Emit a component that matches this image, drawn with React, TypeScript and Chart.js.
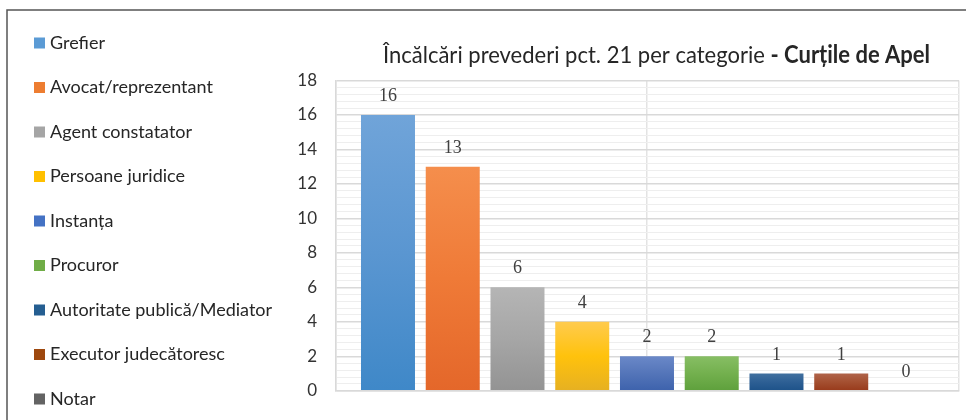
import React, { useEffect, useRef } from "react";
import { Chart, registerables } from "chart.js";

Chart.register(...registerables);

const categories = [
  "Grefier",
  "Avocat/reprezentant",
  "Agent constatator",
  "Persoane juridice",
  "Instanța",
  "Procuror",
  "Autoritate publică/Mediator",
  "Executor judecătoresc",
  "Notar",
];
const values = [16, 13, 6, 4, 2, 2, 1, 1, 0];
const yTickLabels = ["0", "2", "4", "6", "8", "10", "12", "14", "16", "18"];
const legendColors = ["#5B9BD5", "#ED7D31", "#A5A5A5", "#FFC000", "#4472C4", "#70AD47", "#255E91", "#9E480E", "#636363"];
const topColors = ["#70A4D9", "#F58E4C", "#B5B5B5", "#FFCB4E", "#6A88C8", "#87BE64", "#41709F", "#B0644A", "#7A7A7A"];
const midColors = ["#5A96D1", "#EF7A37", "#A6A6A6", "#FFC20C", "#5475B9", "#73B04E", "#2D5F94", "#A44F30", "#6A6A6A"];
const bottomColors = ["#3F88C8", "#E4672A", "#939393", "#E6B022", "#3D62AC", "#5EA03C", "#1D5289", "#983A1B", "#555555"];

const titleNormal = "Încălcări prevederi pct. 21 per categorie ";
const titleBold = "- Curțile de Apel";

const SANS = 'Lato, "Noto Sans", sans-serif';

const isMajor = (v: number) => Math.abs(v / 2 - Math.round(v / 2)) < 1e-6;

const decorPlugin = {
  id: "decor",
  beforeDraw(chart: any) {
    const ctx = chart.ctx;
    ctx.save();
    ctx.fillStyle = "#ffffff";
    ctx.fillRect(0, 0, chart.width, chart.height);
    ctx.strokeStyle = "#555555";
    ctx.lineWidth = 1.5;
    ctx.beginPath();
    ctx.moveTo(7, chart.height);
    ctx.lineTo(7, 10);
    ctx.lineTo(chart.width, 10);
    ctx.stroke();
    ctx.restore();
  },
  afterDatasetsDraw(chart: any) {
    const ctx = chart.ctx;
    const meta = chart.getDatasetMeta(0);
    ctx.save();
    ctx.font = '18px "Liberation Serif", "DejaVu Serif", serif';
    ctx.fillStyle = "#404040";
    ctx.textAlign = "center";
    ctx.textBaseline = "alphabetic";
    meta.data.forEach((el: any, i: number) => {
      ctx.fillText(String(values[i]), el.x, el.y - 14);
    });
    ctx.restore();
  },
  afterDraw(chart: any) {
    const ctx = chart.ctx;
    ctx.save();
    ctx.fillStyle = "#262626";
    ctx.textBaseline = "alphabetic";
    ctx.textAlign = "left";
    const fNormal = `24px ${SANS}`;
    const fBold = `bold 24px ${SANS}`;
    ctx.font = fNormal;
    const wN = ctx.measureText(titleNormal).width;
    ctx.font = fBold;
    const wB = ctx.measureText(titleBold).width;
    const target = 547;
    const sx = target / (wN + wB);
    ctx.translate(383, 63);
    ctx.scale(sx, 1);
    ctx.font = fNormal;
    ctx.fillText(titleNormal, 0, 0);
    ctx.font = fBold;
    ctx.fillText(titleBold, wN, 0);
    ctx.restore();

    ctx.save();
    ctx.font = `18px ${SANS}`;
    ctx.textBaseline = "middle";
    ctx.textAlign = "left";
    categories.forEach((c, i) => {
      const cy = 43 + i * 44.5;
      ctx.fillStyle = legendColors[i];
      ctx.fillRect(34, cy - 5.5, 11, 11);
      ctx.fillStyle = "#262626";
      ctx.fillText(c, 50, cy);
    });
    ctx.restore();
  },
};

export default function App() {
  const ref = useRef<HTMLCanvasElement | null>(null);
  useEffect(() => {
    if (!ref.current) return;
    const chart = new Chart(ref.current, {
      type: "bar",
      data: {
        datasets: [
          {
            label: "Încălcări",
            data: values.map((v, i) => ({ x: i, y: v })) as any,
            backgroundColor: (c: any) => {
              const i = c.dataIndex;
              if (i === undefined) return legendColors[0];
              const chart = c.chart;
              if (!chart.chartArea) return legendColors[i];
              const ys = chart.scales.y;
              const top = ys.getPixelForValue(values[i]);
              const bottom = ys.getPixelForValue(0);
              if (bottom - top < 1) return legendColors[i];
              const g = chart.ctx.createLinearGradient(0, top, 0, bottom);
              g.addColorStop(0, topColors[i]);
              g.addColorStop(0.5, midColors[i]);
              g.addColorStop(1, bottomColors[i]);
              return g;
            },
            borderWidth: 0,
            barPercentage: 0.834,
            categoryPercentage: 1,
          },
        ],
      },
      options: {
        animation: false,
        responsive: false,
        devicePixelRatio: 1,
        layout: { padding: { left: 0, top: 80.5, right: 7, bottom: 20.5 } },
        plugins: {
          legend: { display: false },
          title: { display: false },
          tooltip: { enabled: false },
        },
        scales: {
          x: {
            type: "linear",
            offset: false,
            min: -0.803,
            max: 8.819,
            afterBuildTicks: (s: any) => {
              s.ticks = [{ value: s.min }, { value: 4 }, { value: s.max }];
            },
            afterFit: (s: any) => {
              s.height = 0;
            },
            ticks: { display: false },
            grid: { color: "#E3E3E3", lineWidth: 1.5, drawTicks: false, offset: false },
            border: { display: true, color: "#D9D9D9", width: 1.5 },
          },
          y: {
            min: 0,
            max: 18,
            afterFit: (s: any) => {
              s.width = 336;
            },
            ticks: {
              stepSize: 0.4,
              autoSkip: false,
              padding: 19,
              color: "#333333",
              font: { family: SANS, size: 17 },
              callback: (v: any) => (isMajor(Number(v)) ? yTickLabels[Math.round(Number(v) / 2)] : ""),
            },
            grid: {
              drawTicks: false,
              color: (c: any) => (isMajor(c.tick.value) ? "#D9D9D9" : "#EEEEEE"),
              lineWidth: (c: any) => (isMajor(c.tick.value) ? 1.5 : 1),
            },
            border: { display: true, color: "#D9D9D9", width: 1.5 },
          },
        },
      },
      plugins: [decorPlugin],
    });
    return () => chart.destroy();
  }, []);
  return (
    <div style={{ position: "absolute", left: 0, top: 0, width: 966, height: 420, overflow: "hidden" }}>
      <canvas ref={ref} width={966} height={420} style={{ display: "block" }} />
    </div>
  );
}
